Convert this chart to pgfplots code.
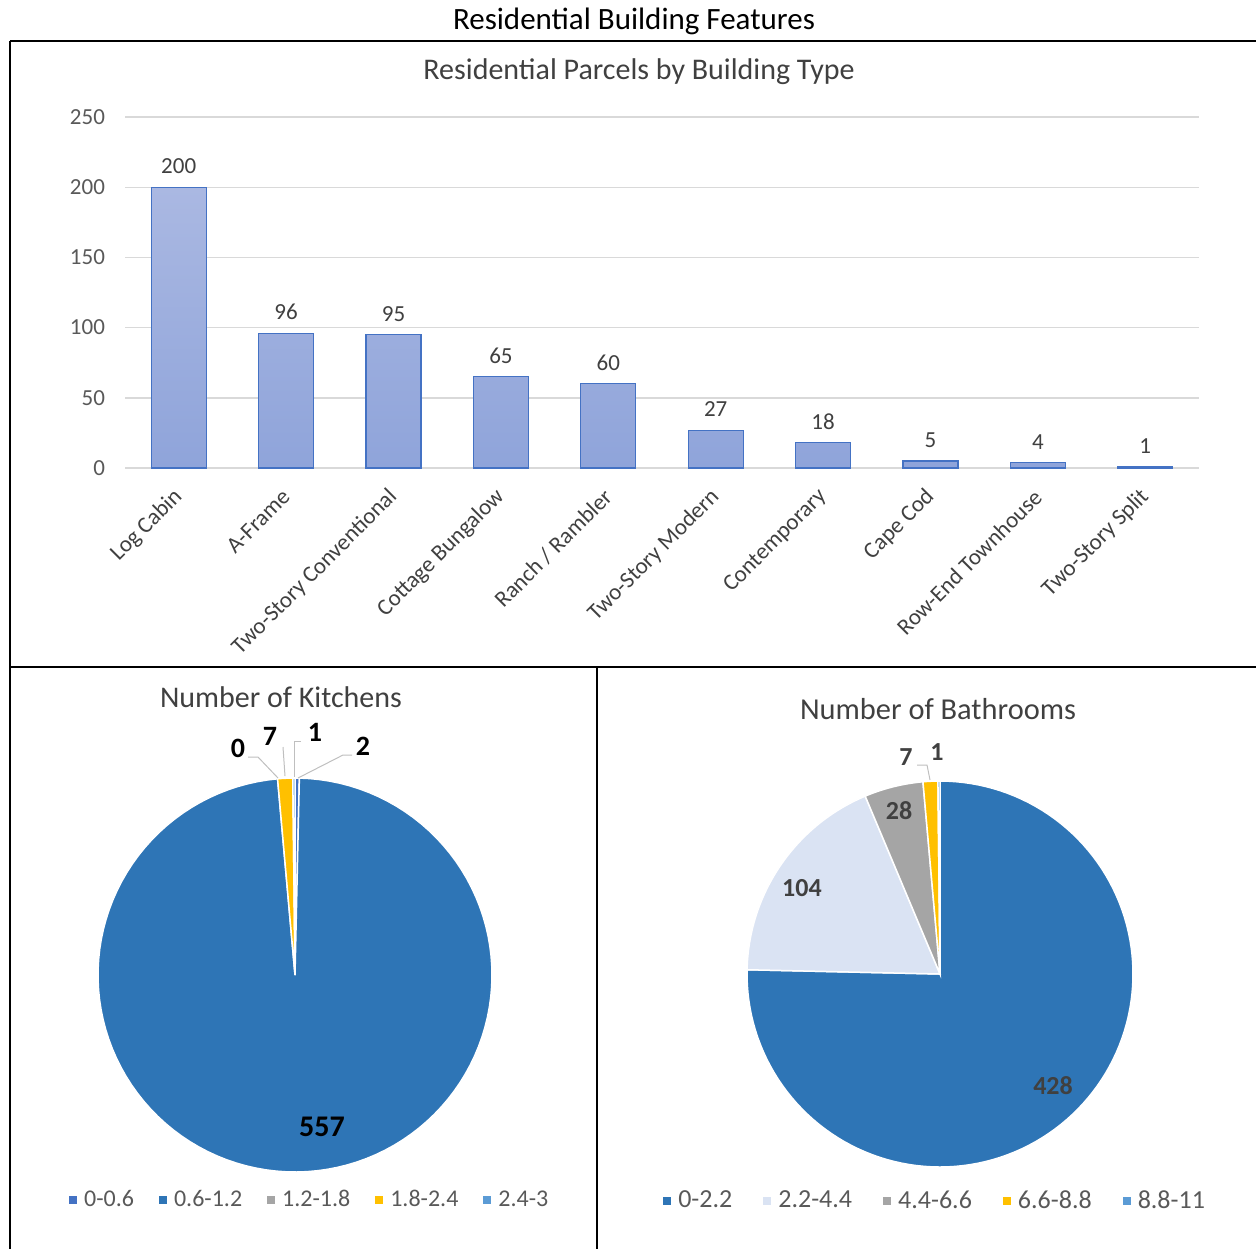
\documentclass[border=0pt]{standalone}
\usepackage{fontspec}
\setmainfont{Carlito}
\usepackage{pgfplots}
\pgfplotsset{compat=1.18}
\definecolor{gridgray}{HTML}{D9D9D9}
\definecolor{tickgray}{HTML}{595959}
\definecolor{labgray}{HTML}{404040}
\definecolor{barblue}{HTML}{4472C4}
\definecolor{bartop}{RGB}{170,184,226}
\definecolor{barbot}{RGB}{143,164,218}
\definecolor{pA}{HTML}{4472C4}
\definecolor{pB}{HTML}{2E75B6}
\definecolor{pC}{HTML}{A5A5A5}
\definecolor{pD}{HTML}{FFC000}
\definecolor{pE}{HTML}{5B9BD5}
\definecolor{pL}{HTML}{DAE3F3}
\definecolor{leadgray}{HTML}{BFBFBF}
% pie slice: #1 cumulative start, #2 value, #3 total, #4 colour
\newcommand{\pieslice}[4]{%
  \addplot[forget plot, fill=#4, draw=white, line width=0.75pt,
    domain={90-360*(#1+#2)/#3}:{90-360*(#1)/#3}, samples=120, variable=\t]
    ({cos(\t)},{sin(\t)}) -- (axis cs:0,0) -- cycle;}
\begin{document}
\begin{tikzpicture}
\useasboundingbox (0pt,0pt) rectangle (628pt,-624.5pt);
% bar chart
\begin{axis}[
  at={(62.5pt,-234pt)}, anchor=south west,
  scale only axis, width=537pt, height=175.5pt,
  xmin=-0.5, xmax=9.5, ymin=0, ymax=250,
  ytick={0,50,100,150,200,250},
  xtick={0,...,9},
  xticklabels={Log Cabin, A-Frame, Two-Story Conventional, Cottage Bungalow, Ranch / Rambler, Two-Story Modern, Contemporary, Cape Cod, Row-End Townhouse, Two-Story Split},
  axis line style={draw=none},
  major tick length=0pt,
  ymajorgrids, grid style={draw=gridgray, line width=0.7pt},
  tick label style={font=\fontsize{11.5}{13}\selectfont},
  /pgf/number format/assume math mode=true,
  yticklabel style={text=tickgray, xshift=-6.5pt},
  xticklabel style={rotate=45, anchor=east, text=labgray, yshift=-9pt, xshift=-5.5pt},
  ybar, bar width=27.5pt,
  nodes near coords,
  every node near coord/.append style={font=\fontsize{11.5}{13}\selectfont, text=labgray, yshift=3pt},
  clip=false,
]
\addplot[draw=barblue, line width=0.6pt, top color=bartop, bottom color=barbot]
  coordinates {(0,200) (1,96) (2,95) (3,65) (4,60) (5,27) (6,18) (7,5) (8,4) (9,1)};
\end{axis}
% kitchens pie
\begin{axis}[
  at={(147.5pt,-487.5pt)}, anchor=center,
  scale only axis, width=197pt, height=197pt,
  hide axis, xmin=-1, xmax=1, ymin=-1, ymax=1, clip=false,
  legend columns=5,
  legend image code/.code={\fill[#1,draw=none] (0pt,-2pt) rectangle (4pt,2pt);},
  legend style={draw=none, fill=none, at={(0.540,-0.071)}, anchor=center,
    font=\fontsize{12}{14}\selectfont, text=tickgray,
    /tikz/every odd column/.append style={column sep=1.5pt},
    /tikz/every even column/.append style={column sep=10.5pt}},
]
\pieslice{0}{2}{567}{pA}
\pieslice{2}{557}{567}{pB}
\pieslice{559}{7}{567}{pD}
\pieslice{566}{1}{567}{pE}
\addlegendimage{fill=pA}\addlegendentry{0-0.6}
\addlegendimage{fill=pB}\addlegendentry{0.6-1.2}
\addlegendimage{fill=pC}\addlegendentry{1.2-1.8}
\addlegendimage{fill=pD}\addlegendentry{1.8-2.4}
\addlegendimage{fill=pE}\addlegendentry{2.4-3}
\end{axis}
% bathrooms pie
\begin{axis}[
  at={(470pt,-487pt)}, anchor=center,
  scale only axis, width=193pt, height=193pt,
  hide axis, xmin=-1, xmax=1, ymin=-1, ymax=1, clip=false,
  legend columns=5,
  legend image code/.code={\fill[#1,draw=none] (0pt,-2pt) rectangle (4pt,2pt);},
  legend style={draw=none, fill=none, at={(0.49,-0.088)}, anchor=center,
    font=\fontsize{13}{15}\selectfont, text=tickgray,
    /tikz/every odd column/.append style={column sep=1.5pt},
    /tikz/every even column/.append style={column sep=13.5pt}},
]
\pieslice{0}{428}{568}{pB}
\pieslice{428}{104}{568}{pL}
\pieslice{532}{28}{568}{pC}
\pieslice{560}{7}{568}{pD}
\pieslice{567}{1}{568}{pE}
\addlegendimage{fill=pB}\addlegendentry{0-2.2}
\addlegendimage{fill=pL}\addlegendentry{2.2-4.4}
\addlegendimage{fill=pC}\addlegendentry{4.4-6.6}
\addlegendimage{fill=pD}\addlegendentry{6.6-8.8}
\addlegendimage{fill=pE}\addlegendentry{8.8-11}
\end{axis}
\begin{scope}[x=0.5pt,y=-0.5pt]
% titles
\node[font=\fontsize{15.5}{18}\selectfont, text=black] at (634,21) {Residential Building Features};
\node[font=\fontsize{15}{18}\selectfont, text=labgray] at (639,72) {Residential Parcels by Building Type};
% frame
\draw[line width=1pt] (10,41) -- (1256,41);
\draw[line width=1pt] (10,41) -- (10,1249);
\draw[line width=1pt] (10,667) -- (1256,667);
\draw[line width=1pt] (597,667) -- (597,1249);
% kitchens labels
\node[font=\fontsize{15}{18}\selectfont, text=labgray] at (281,697) {Number of Kitchens};
\draw[leadgray, line width=0.5pt] (248,757) -- (258,757) -- (278,778);
\draw[leadgray, line width=0.5pt] (283,747) -- (285,776);
\draw[leadgray, line width=0.5pt] (301,741) -- (294,741) -- (294,777);
\draw[leadgray, line width=0.5pt] (352,755) -- (343,755) -- (298,778);
\node[font=\bfseries\fontsize{15}{18}\selectfont] at (322,1127) {557};
\node[font=\bfseries\fontsize{14}{17}\selectfont] at (238,748) {0};
\node[font=\bfseries\fontsize{14}{17}\selectfont] at (270,736) {7};
\node[font=\bfseries\fontsize{14}{17}\selectfont] at (315,732) {1};
\node[font=\bfseries\fontsize{14}{17}\selectfont] at (363,746) {2};
% bathrooms labels
\node[font=\fontsize{15.2}{18}\selectfont, text=labgray] at (938,709) {Number of Bathrooms};
\draw[leadgray, line width=0.5pt] (917,765) -- (927,765) -- (930,780);
\node[font=\bfseries\fontsize{13}{16}\selectfont, text=labgray] at (1053,1086) {428};
\node[font=\bfseries\fontsize{13}{16}\selectfont, text=labgray] at (802,888) {104};
\node[font=\bfseries\fontsize{13}{16}\selectfont, text=labgray] at (899,811) {28};
\node[font=\bfseries\fontsize{13}{16}\selectfont, text=labgray] at (906,757) {7};
\node[font=\bfseries\fontsize{13}{16}\selectfont, text=labgray] at (937,752) {1};
\end{scope}
\end{tikzpicture}
\end{document}
